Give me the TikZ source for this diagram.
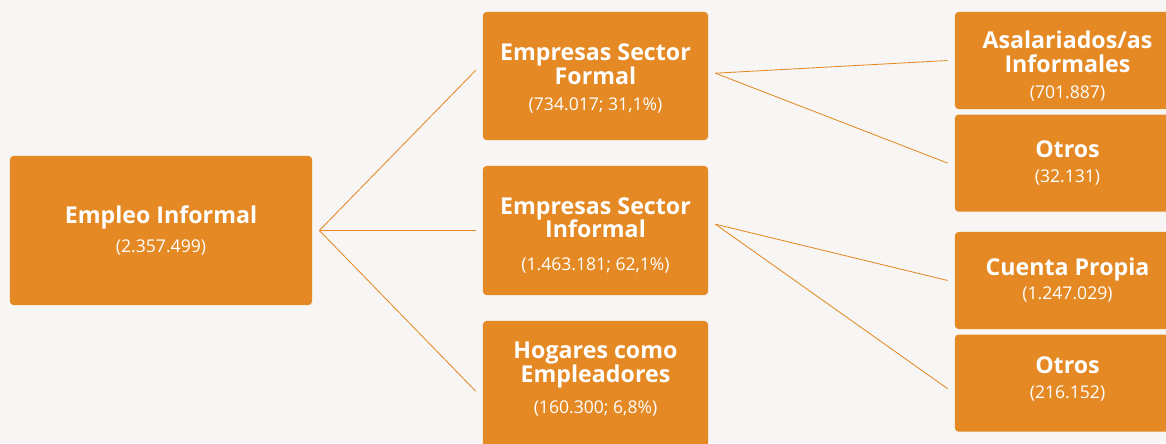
\documentclass[tikz,border=0pt]{standalone}
\usepackage{fontspec}
\setmainfont{Open Sans}
\usetikzlibrary{positioning}
\definecolor{naranja}{RGB}{228,137,36}
\definecolor{fondo}{RGB}{247,246,244}
\newcommand{\cifra}[1]{{\mdseries\fontsize{12.5}{14}\selectfont #1}}
\newcommand{\alto}[1]{\rule{0pt}{#1}}
\newcommand{\bajo}[1]{\rule[-#1]{0pt}{#1}}

\begin{document}
\begin{tikzpicture}[x=0.025cm,y=-0.025cm,
    caja/.style={fill=naranja,rounded corners=2.5pt,text=white,align=center,
      inner sep=0pt,minimum width=5.625cm,font=\bfseries\fontsize{16.5}{17}\selectfont},
    rama/.style={draw=naranja,line width=0.6pt}]
  \fill[fondo] (0,0) rectangle (1166,443);
  \useasboundingbox (0,0) rectangle (1166,443);
  \clip (0,0) rectangle (1166,443);

  \node[caja,minimum width=7.55cm,minimum height=3.725cm] (empleo) at (161,230.5)
    {Empleo Informal\\[4.3pt]\cifra{(2.357.499)}};

  \node[caja,minimum height=3.2cm] (formal) at (595.5,76)
    {\alto{16pt}Empresas Sector\\Formal\\[1.5pt]\cifra{(734.017; 31,1\%)}};
  \node[caja,minimum height=3.225cm] (informal) at (595.5,230.5)
    {\alto{18.4pt}Empresas Sector\\Informal\\[5.8pt]\cifra{(1.463.181; 62,1\%)}};
  \node[caja,minimum height=3.225cm] (hogares) at (595.5,385.5)
    {Hogares como\\Empleadores\\[5pt]\cifra{(160.300; 6,8\%)}\bajo{10.7pt}};

  \node[caja,minimum height=2.425cm] (asal) at (1067.5,60.5)
    {\alto{21pt}Asalariados/as\\Informales\\[1.5pt]\cifra{(701.887)}};
  \node[caja,minimum height=2.425cm,below=0.125cm of asal] (otrosf)
    {\alto{12pt}Otros\\[0.8pt]\cifra{(32.131)}};
  \node[caja,minimum height=2.425cm] (cuenta) at (1067.5,280.5)
    {\alto{12pt}Cuenta Propia\\[0pt]\cifra{(1.247.029)}};
  \node[caja,minimum height=2.425cm,below=0.125cm of cuenta] (otrosi)
    {Otros\\[0.8pt]\cifra{(216.152)}\bajo{7.2pt}};

  % ramas
  \draw[rama] ([xshift=5]empleo.east) -- ([xshift=-5,yshift=4]formal.west);
  \draw[rama] ([xshift=5]empleo.east) -- ([xshift=-5]informal.west);
  \draw[rama] ([xshift=5]empleo.east) -- ([xshift=-5,yshift=-4]hogares.west);
  \draw[rama] ([xshift=5,yshift=2]formal.east) -- ([xshift=-5]asal.west);
  \draw[rama] ([xshift=5,yshift=2]formal.east) -- ([xshift=-5]otrosf.west);
  \draw[rama] ([xshift=5,yshift=4.5]informal.east) -- ([xshift=-5]cuenta.west);
  \draw[rama] ([xshift=5,yshift=4.5]informal.east) -- ([xshift=-5,yshift=-4]otrosi.west);
\end{tikzpicture}
\end{document}
